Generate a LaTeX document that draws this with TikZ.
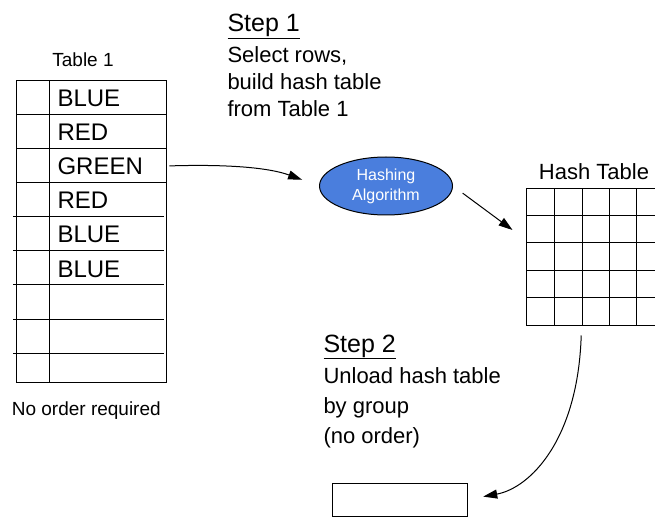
\documentclass[tikz,border=0pt]{standalone}
\usepackage{fontspec}
\setmainfont{Liberation Sans}
\usetikzlibrary{arrows.meta,shapes.geometric}
\definecolor{hashblue}{HTML}{4A7EDD}

\begin{document}
\begin{tikzpicture}[x=1pt,y=-1pt,line width=1pt,
  arr/.style={-{Triangle[length=14pt,width=9pt]}},
  cell/.style={anchor=base west,inner sep=0pt,font=\fontsize{24}{28}\selectfont},
  steptitle/.style={anchor=base west,inner sep=0pt,font=\fontsize{25}{30}\selectfont},
  steptext/.style={anchor=base west,inner sep=0pt,align=left}]
\useasboundingbox (0,0) rectangle (655,518);

% Table 1
\node[anchor=base,font=\fontsize{19}{22}\selectfont] (t1label) at (83,67) {Table 1};
\draw (16,81) rectangle (166,382);
\draw (49,81) -- (49,382);
\foreach \y in {115,149,183} \draw (16,\y) -- (166,\y);
\foreach \y in {217,251,285,319,353} \draw (13,\y) -- (164,\y);
\foreach \t [count=\i] in {BLUE,RED,GREEN,RED,BLUE,BLUE}
  \node[cell] (r\i) at (57,{73+34*\i}) {\t};
\node[anchor=base west,font=\fontsize{19}{22}\selectfont] (noorder) at (8,415) {No order required};

% step 1
\node[steptitle] (step1) at (227,32) {\underline{Step 1}};
\node[steptext,font=\fontsize{22}{27}\selectfont] (step1txt) at (227,117)
  {Select rows,\\build hash table\\from Table 1};

% hashing
\node[ellipse,draw,fill=hashblue,text=white,minimum width=133pt,minimum height=58pt,
  inner sep=0pt,align=center,font=\fontsize{16}{20}\selectfont] (hashalg) at (386,186)
  {Hashing\\Algorithm};

% hash table
\node[minimum width=129pt,minimum height=136pt,inner sep=0pt] (hashtbl) at (590.5,257) {};
\node[anchor=base,font=\fontsize{22}{26}\selectfont] (htlabel) at (594,180) {Hash Table};
\foreach \x in {526,554,582,609,636} \draw (\x,189) -- (\x,325);
\foreach \y in {189,216,243,271,297,325} \draw (526,\y) -- (655,\y);

% step 2
\node[steptitle] (step2) at (323,352) {\underline{Step 2}};
\node[steptext,font=\fontsize{22}{30}\selectfont] (step2txt) at (323,443)
  {Unload hash table\\by group\\(no order)};
\node[draw,minimum width=135pt,minimum height=33pt,inner sep=0pt] (result) at (399.5,499.5) {};

\draw[arr,shorten <=26pt,shorten >=18pt] (r3.east) .. controls (230,164) and (270,168) .. (hashalg.west);
\draw[arr,shorten <=12pt] (hashalg.east) -- ([xshift=-13pt,yshift=27pt]hashtbl.west);
\draw[arr,shorten <=10pt,shorten >=16pt] ([xshift=-9pt]hashtbl.south) .. controls (578,440) and (530,488) .. (result.east);
\end{tikzpicture}
\end{document}
